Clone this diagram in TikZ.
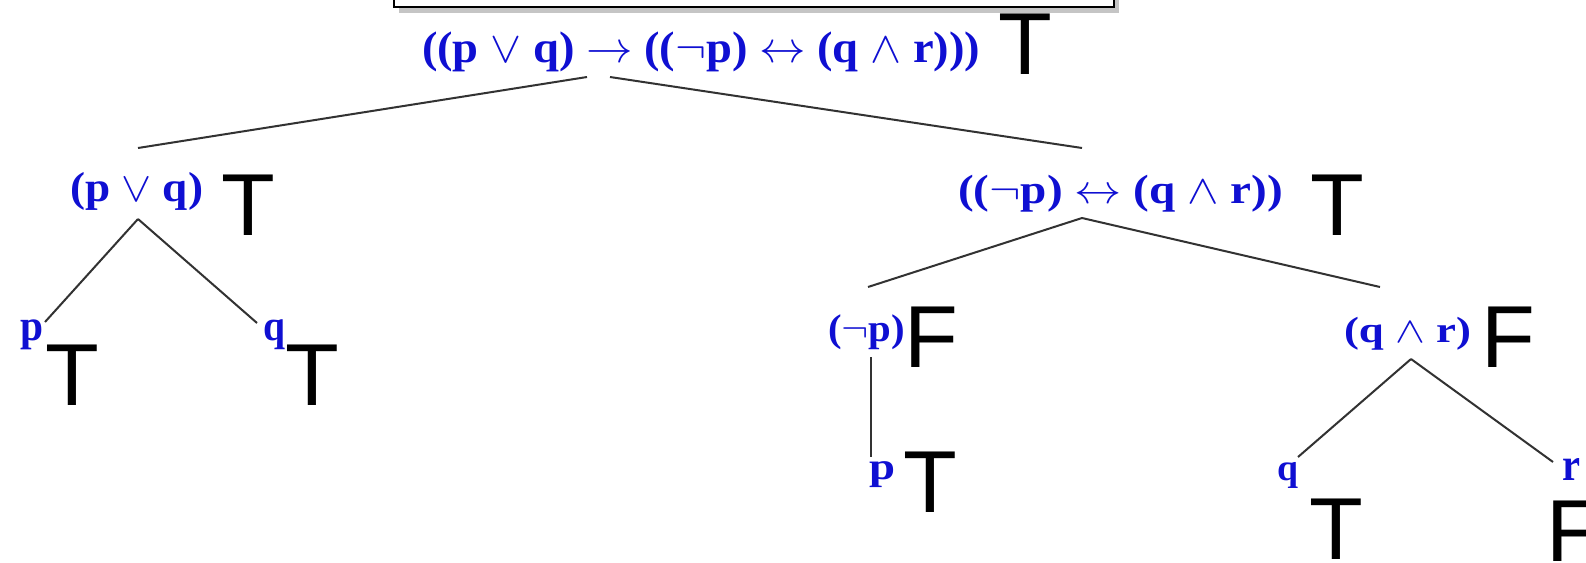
\documentclass[tikz,border=0pt]{standalone}
\usepackage{fontspec}
\usepackage{graphicx}
\setmainfont{Liberation Serif}
\newfontfamily\tvfont{Liberation Sans}
\usetikzlibrary{shadows,calc}
\definecolor{blu}{RGB}{15,15,210}
\definecolor{linegray}{RGB}{50,50,50}
\tikzset{
  lab/.style={inner sep=0pt, outer sep=0pt, anchor=north west, text=blu, font=\bfseries},
  tv/.style={inner sep=0pt, outer sep=0pt, anchor=base, text=black, font=\tvfont\fontsize{88}{88}\selectfont},
  conn/.style={draw=linegray, line width=2pt},
  topbox/.style={draw=black, line width=2.6pt, fill=white,
    drop shadow={opacity=0.45, shadow xshift=5pt, shadow yshift=-6pt}}
}
\begin{document}
\begin{tikzpicture}[x=1pt,y=-1pt]
\useasboundingbox (0,0) rectangle (1586,562);
\clip (0,0) rectangle (1586,562);
\fill[white] (0,0) rectangle (1586,562);
% top box
\draw[topbox] (394,-30) rectangle (1114,7);
% blue formula labels
\node[lab] (root) at (422,32) {\resizebox*{558pt}{40pt}{((p $\vee$ q) $\rightarrow$ (($\neg$p) $\leftrightarrow$ (q $\wedge$ r)))}};
\node[lab] (pq) at (70,172) {\resizebox*{133pt}{38pt}{(p $\vee$ q)}};
\node[lab] (rc) at (958,175) {\resizebox*{325pt}{37pt}{(($\neg$p) $\leftrightarrow$ (q $\wedge$ r))}};
\node[lab] (lp) at (20,320) {\resizebox*{23pt}{30pt}{p}};
\node[lab] (lq) at (263,320) {\resizebox*{22pt}{30pt}{q}};
\node[lab] (np) at (828,315) {\resizebox*{77pt}{35pt}{($\neg$p)}};
\node[lab] (pp) at (869,462) {\resizebox*{26pt}{26pt}{p}};
\node[lab] (qr) at (1344,317) {\resizebox*{127pt}{33pt}{(q $\wedge$ r)}};
\node[lab] (qq) at (1277,462) {\resizebox*{21pt}{26pt}{q}};
\node[lab] (rr) at (1562,458) {\resizebox*{18pt}{22pt}{r}};
% truth values
\node[tv] (troot) at (1025,74) {T};
\node[tv] (tpq) at (248,235) {T};
\node[tv] (tlp) at (72,405) {T};
\node[tv] (tlq) at (312,405) {T};
\node[tv] (trc) at (1337,235) {T};
\node[tv] (fnp) at (931,367) {F};
\node[tv] (tpp) at (930,512) {T};
\node[tv] (fqr) at (1508,367) {F};
\node[tv] (tqq) at (1336,559) {T};
\node[tv] (frr) at (1573,561) {F};
% connectors
\draw[conn] ([shift={(165,5)}]root.south west) -- ([shift={(68,-24)}]pq.north west);
\draw[conn] ([shift={(188,5)}]root.south west) -- ([shift={(124,-27)}]rc.north west);
\draw[conn] ([shift={(68,9)}]pq.south west) -- ([shift={(25,2)}]lp.north west);
\draw[conn] ([shift={(68,9)}]pq.south west) -- ([shift={(-6,3)}]lq.north west);
\draw[conn] ([shift={(124,6)}]rc.south west) -- ([shift={(40,-28)}]np.north west);
\draw[conn] ([shift={(124,6)}]rc.south west) -- ([shift={(36,-30)}]qr.north west);
\draw[conn] ([shift={(43,7)}]np.south west) -- ([shift={(2,-5)}]pp.north west);
\draw[conn] ([shift={(67,9)}]qr.south west) -- ([shift={(21,-5)}]qq.north west);
\draw[conn] ([shift={(67,9)}]qr.south west) -- ([shift={(-9,4)}]rr.north west);
\end{tikzpicture}
\end{document}
